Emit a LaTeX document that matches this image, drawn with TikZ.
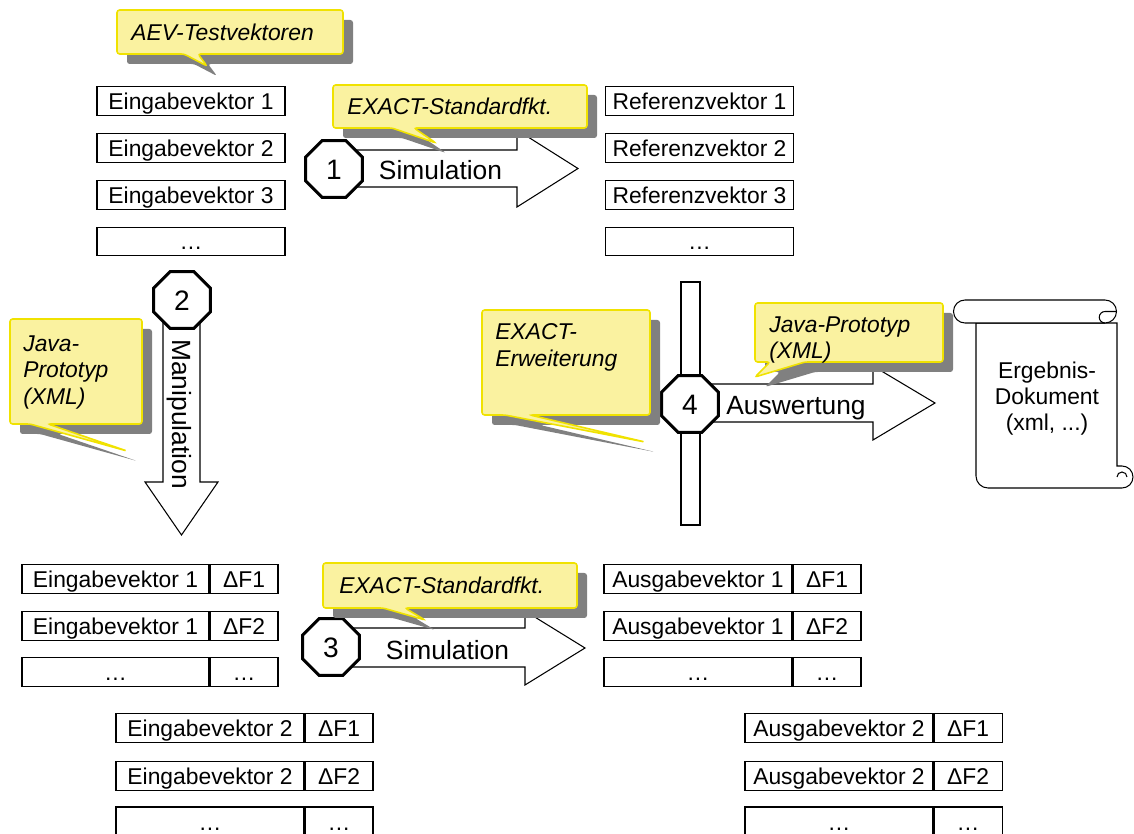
\documentclass[tikz,border=0pt]{standalone}
\usepackage{fontspec}
\setmainfont{Liberation Sans}
\usetikzlibrary{shapes.geometric}

\definecolor{callfill}{RGB}{250,242,160}
\definecolor{callline}{RGB}{240,226,0}
\definecolor{shadowgray}{RGB}{128,128,128}

\tikzset{
  vec/.style={draw, fill=white, line width=0.6pt, minimum height=0.57cm,
    inner sep=0pt, text height=9.3pt, text depth=0pt, font=\fontsize{13}{15}\selectfont},
  widecell/.style={vec, minimum width=3.76cm},
  narrowcell/.style={vec, minimum width=1.36cm},
  stepnum/.style={regular polygon, regular polygon sides=8, draw, line width=1.7pt,
    fill=white, minimum size=1.23cm, inner sep=0pt, text height=11.4pt, text depth=0pt,
    font=\fontsize{16}{18}\selectfont},
  blockarrow/.style={draw, fill=white, line width=0.6pt, line join=miter},
  arrowlabel/.style={font=\fontsize{15}{17}\selectfont, inner sep=0pt,
    text height=10.7pt, text depth=0pt},
  callout/.style={fill=callfill, draw=callline, line width=0.9pt, rounded corners=1.5pt},
  calloutshadow/.style={fill=shadowgray, rounded corners=1.5pt},
  callouttext/.style={font=\fontsize{13}{15.3}\selectfont\itshape, inner sep=0pt, align=left},
  scrollline/.style={draw, fill=white, line width=0.6pt},
}

% speech bubble: rectangle (#1,#2)-(#3,#4), tail base from x=#5 to x=#6, tip at (#7,#8)
\newcommand\speechbubble[8]{%
  \begin{scope}[shift={(10,10)}]
    \fill[calloutshadow] (#1,#2) -- (#3,#2) -- (#3,#4) -- (#6,#4) -- (#7,#8) -- (#5,#4) -- (#1,#4) -- cycle;
  \end{scope}
  \filldraw[callout] (#1,#2) -- (#3,#2) -- (#3,#4) -- (#6,#4) -- (#7,#8) -- (#5,#4) -- (#1,#4) -- cycle;
}

\begin{document}
\begin{tikzpicture}[x=0.02cm, y=-0.02cm]
\useasboundingbox (0,0) rectangle (1134,834);

% input vectors
\node[widecell] (in1) at (191,101) {Eingabevektor 1};
\node[widecell] (in2) at (191,148) {Eingabevektor 2};
\node[widecell] (in3) at (191,195) {Eingabevektor 3};
\node[widecell] (in4) at (191,241.5) {…};

% reference vectors
\node[widecell] (ref1) at (699.5,101) {Referenzvektor 1};
\node[widecell] (ref2) at (699.5,148) {Referenzvektor 2};
\node[widecell] (ref3) at (699.5,195) {Referenzvektor 3};
\node[widecell] (ref4) at (699.5,241.5) {…};

% step 1: simulation
\draw[blockarrow] (334,150) -- (517,150) -- (517,130) -- (578,168.5) -- (517,207) -- (517,187) -- (334,187) -- cycle;
\node[arrowlabel] (sim1) at (440.5,170) {Simulation};
\node[stepnum] (s1) at (334,169) {1};
\speechbubble{333}{85}{587}{128}{392}{414}{436}{143}
\node[callouttext, anchor=west] (c1) at (347,106) {EXACT-Standardfkt.};

\speechbubble{117}{10}{343}{54}{184}{198}{207}{66}
\node[callouttext, anchor=west] (c0) at (131,32) {AEV-Testvektoren};

% step 2: manipulation
\draw[blockarrow] (163,300) -- (163,482) -- (145,482) -- (181.5,535) -- (218,482) -- (200,482) -- (200,300) -- cycle;
\node[arrowlabel, rotate=-90] (man) at (181.5,414) {Manipulation};
\node[stepnum] (s2) at (182,300) {2};
\speechbubble{10}{319}{142}{424}{30}{48}{127}{451}
\node[callouttext, anchor=north west] (c2) at (23,335) {Java-\\Prototyp\\(XML)};

% step 4: evaluation
\draw[blockarrow] (681,282) rectangle (700,525);
\draw[blockarrow] (690,384) -- (873,384) -- (873,366) -- (935,403) -- (873,440) -- (873,422) -- (690,422) -- cycle;
\node[arrowlabel] (ausw) at (796,405) {Auswertung};
\node[stepnum] (s4) at (690,404) {4};
\speechbubble{482}{310}{650}{415}{505}{530}{645}{442}
\node[callouttext, anchor=north west] (c4) at (495,323) {EXACT-\\Erweiterung};
\speechbubble{755}{303}{943}{362}{770}{805}{755}{377}
\node[callouttext, anchor=north west] (c5) at (769,316) {Java-Prototyp\\(XML)};

% result document (scroll)
\path[scrollline] (976,323) -- (976,476) arc[start angle=180, end angle=90, radius=12]
  -- (1122,488) arc[start angle=90, end angle=-90, radius=11] -- (1117,466) -- (1117,323) -- cycle;
\draw[line width=0.6pt] (1117,477) arc[start angle=180, end angle=360, radius=5];
\path[scrollline] (965,323) arc[start angle=90, end angle=270, radius=11.5]
  -- (1105,300) arc[start angle=-90, end angle=90, radius=11.5] -- cycle;
\draw[line width=0.6pt] (1105,323) arc[start angle=90, end angle=270, radius=5.75] -- (1116.5,311.5);
\node[font=\fontsize{13}{14.7}\selectfont, align=center, inner sep=0pt, anchor=north] (doc) at (1047,362)
  {Ergebnis-\\Dokument\\(xml, ...)};

% manipulated vectors
\node[widecell, minimum width=3.74cm] (m11) at (115.5,579) {Eingabevektor 1};
\node[narrowcell, anchor=west] (d11) at (m11.east) {ΔF1};
\node[widecell, minimum width=3.74cm] (m12) at (115.5,626) {Eingabevektor 1};
\node[narrowcell, anchor=west] (d12) at (m12.east) {ΔF2};
\node[widecell, minimum width=3.74cm] (m13) at (115.5,672) {…};
\node[narrowcell, anchor=west] (d13) at (m13.east) {…};

\node[widecell] (m21) at (210,728) {Eingabevektor 2};
\node[narrowcell, anchor=west] (d21) at (m21.east) {ΔF1};
\node[widecell] (m22) at (210,776) {Eingabevektor 2};
\node[narrowcell, anchor=west] (d22) at (m22.east) {ΔF2};
\node[widecell, minimum height=0.6cm] (m23) at (210,822) {…};
\node[narrowcell, minimum height=0.6cm, anchor=west] (d23) at (m23.east) {…};

% output vectors
\node[widecell] (o11) at (698,579) {Ausgabevektor 1};
\node[narrowcell, anchor=west] (e11) at (o11.east) {ΔF1};
\node[widecell] (o12) at (698,626) {Ausgabevektor 1};
\node[narrowcell, anchor=west] (e12) at (o12.east) {ΔF2};
\node[widecell] (o13) at (698,672) {…};
\node[narrowcell, anchor=west] (e13) at (o13.east) {…};

\node[widecell] (o21) at (839,728) {Ausgabevektor 2};
\node[narrowcell, anchor=west] (e21) at (o21.east) {ΔF1};
\node[widecell] (o22) at (839,776) {Ausgabevektor 2};
\node[narrowcell, anchor=west] (e22) at (o22.east) {ΔF2};
\node[widecell, minimum height=0.6cm] (o23) at (839,822) {…};
\node[narrowcell, minimum height=0.6cm, anchor=west] (e23) at (o23.east) {…};

% step 3: simulation
\draw[blockarrow] (331,628) -- (525,628) -- (525,611) -- (585,648) -- (525,685) -- (525,667) -- (331,667) -- cycle;
\node[arrowlabel] (sim3) at (447.5,650) {Simulation};
\node[stepnum] (s3) at (331,647) {3};
\speechbubble{323}{563}{577}{608}{383}{405}{425}{620}
\node[callouttext, anchor=west] (c3) at (339,585) {EXACT-Standardfkt.};

\end{tikzpicture}
\end{document}
